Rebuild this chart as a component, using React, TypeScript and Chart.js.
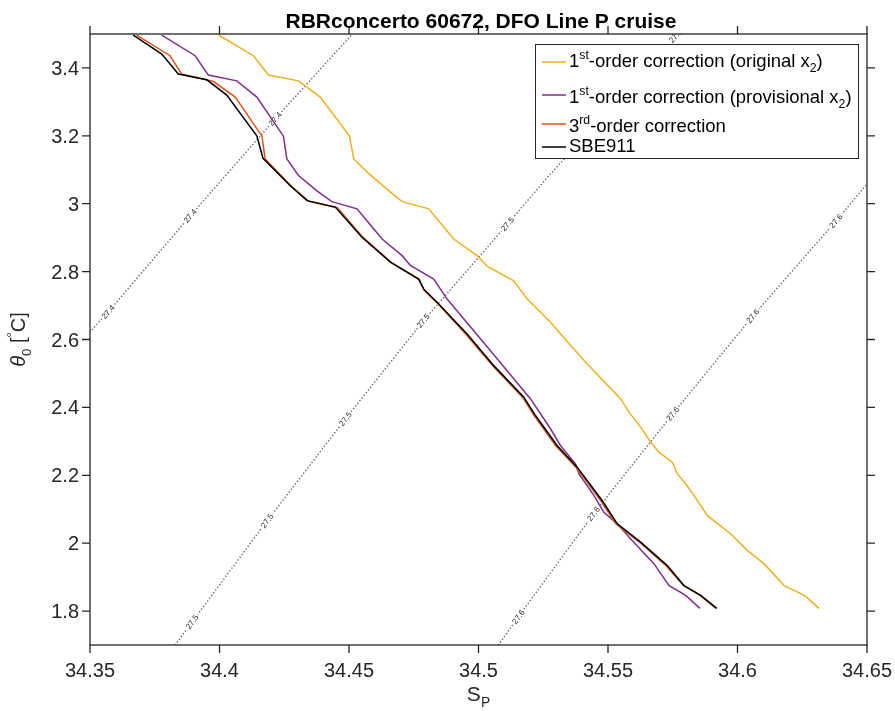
import { useEffect, useRef } from "react";
import { Chart, registerables } from "chart.js";
Chart.register(...registerables);

// ---------------- data ----------------
const xTickValues = [34.35, 34.4, 34.45, 34.5, 34.55, 34.6, 34.65];
const xTickLabels = ["34.35", "34.4", "34.45", "34.5", "34.55", "34.6", "34.65"];
const yTickValues = [1.8, 2, 2.2, 2.4, 2.6, 2.8, 3, 3.2, 3.4];
const yTickLabels = ["1.8", "2", "2.2", "2.4", "2.6", "2.8", "3", "3.2", "3.4"];

// SBE911 (reference CTD)
const sbeS = [34.3667, 34.3777, 34.3841, 34.3951, 34.4028, 34.4144, 34.4168, 34.4273, 34.4338, 34.4447, 34.455, 34.466, 34.4769, 34.4788, 34.484, 34.4956, 34.5059, 34.5175, 34.522, 34.5304, 34.5381, 34.5478, 34.5536, 34.5626, 34.5729, 34.5793, 34.5858, 34.592];
const sbeT = [3.497, 3.441, 3.382, 3.365, 3.32, 3.2, 3.134, 3.053, 3.009, 2.99, 2.901, 2.828, 2.778, 2.749, 2.71, 2.616, 2.523, 2.43, 2.376, 2.287, 2.224, 2.125, 2.057, 2.003, 1.934, 1.875, 1.846, 1.808];

// 3rd-order correction
const thirdS = [34.368, 34.3809, 34.3854, 34.3977, 34.4061, 34.4164, 34.4176, 34.428, 34.4345, 34.4455, 34.4555, 34.4665, 34.4772, 34.479, 34.484, 34.4952, 34.5055, 34.517, 34.5215, 34.5298, 34.5378, 34.5475, 34.553, 34.562, 34.5722, 34.579, 34.5855, 34.5918];
const thirdT = [3.497, 3.436, 3.382, 3.36, 3.314, 3.199, 3.132, 3.05, 3.007, 2.988, 2.9, 2.826, 2.776, 2.745, 2.708, 2.615, 2.523, 2.43, 2.376, 2.287, 2.222, 2.122, 2.057, 2.004, 1.935, 1.877, 1.846, 1.808];

// 1st-order correction (provisional x2)
const provS = [34.3777, 34.3906, 34.3957, 34.4067, 34.4144, 34.4247, 34.426, 34.4305, 34.4376, 34.4434, 34.4531, 34.4595, 34.4628, 34.4705, 34.4737, 34.4827, 34.4879, 34.4976, 34.5072, 34.5201, 34.5278, 34.5317, 34.5375, 34.5388, 34.5446, 34.5484, 34.5536, 34.5587, 34.5678, 34.5736, 34.58, 34.5855];
const provT = [3.497, 3.436, 3.379, 3.362, 3.314, 3.199, 3.132, 3.083, 3.038, 3.006, 2.985, 2.926, 2.896, 2.847, 2.818, 2.778, 2.719, 2.631, 2.543, 2.425, 2.337, 2.287, 2.233, 2.204, 2.14, 2.091, 2.057, 2.013, 1.939, 1.875, 1.846, 1.808];

// 1st-order correction (original x2)
const origS = [34.3996, 34.4131, 34.4189, 34.4305, 34.4389, 34.4502, 34.4518, 34.457, 34.466, 34.4705, 34.4808, 34.4904, 34.4995, 34.5033, 34.5136, 34.5188, 34.5278, 34.5356, 34.542, 34.5549, 34.5581, 34.5626, 34.5665, 34.5697, 34.5749, 34.5768, 34.58, 34.5832, 34.5884, 34.5916, 34.5974, 34.6039, 34.6103, 34.618, 34.6258, 34.6315];
const origT = [3.497, 3.436, 3.379, 3.362, 3.314, 3.199, 3.132, 3.093, 3.034, 3.006, 2.985, 2.896, 2.847, 2.816, 2.773, 2.719, 2.651, 2.582, 2.528, 2.425, 2.386, 2.342, 2.297, 2.268, 2.238, 2.204, 2.175, 2.14, 2.081, 2.062, 2.027, 1.978, 1.939, 1.875, 1.846, 1.808];

// isopycnals (sigma0)
const iso274S = [34.345, 34.35, 34.357, 34.3887, 34.4215, 34.4513, 34.455];
const iso274T = [2.605, 2.622, 2.681, 2.964, 3.25, 3.5, 3.53];
const iso275S = [34.3823, 34.3829, 34.3894, 34.4184, 34.4486, 34.4787, 34.5112, 34.5278, 34.5781, 34.582];
const iso275T = [1.69, 1.7, 1.768, 2.066, 2.366, 2.655, 2.94, 3.088, 3.5, 3.53];
const iso276S = [34.507, 34.5077, 34.5154, 34.5444, 34.575, 34.6059, 34.638, 34.65, 34.655];
const iso276T = [1.69, 1.7, 1.783, 2.086, 2.381, 2.669, 2.949, 3.058, 3.1];

const isoLevels = ["27.4", "27.5", "27.6"];
const lab274S = [34.357, 34.3887, 34.4215];
const lab274T = [2.681, 2.964, 3.25];
const lab275S = [34.3894, 34.4184, 34.4486, 34.4787, 34.5112, 34.5761];
const lab275T = [1.768, 2.066, 2.366, 2.655, 2.94, 3.494];
const lab276S = [34.5154, 34.5444, 34.575, 34.6059, 34.638];
const lab276T = [1.783, 2.086, 2.381, 2.669, 2.949];

const seriesColors = ["#000000", "#D95319", "#7E2F8E", "#EDB120"];

// ---------------- helpers ----------------
const FONT = '"Liberation Sans", Arial, Helvetica, sans-serif';
const AX = "#262626";

function pts(s: number[], t: number[]) {
  return s.map((v, i) => ({ x: v, y: t[i] }));
}

type Part = { t: string; m?: "sup" | "sub"; it?: boolean };

function partFont(p: Part, size: number, bold = false) {
  const s = p.m ? size * 0.66 : size;
  return `${p.it ? "italic " : ""}${bold ? "bold " : ""}${s}px ${FONT}`;
}
function richWidth(ctx: CanvasRenderingContext2D, parts: Part[], size: number) {
  let w = 0;
  for (const p of parts) {
    ctx.font = partFont(p, size);
    w += ctx.measureText(p.t).width;
  }
  return w;
}
function drawRich(ctx: CanvasRenderingContext2D, parts: Part[], x: number, y: number, size: number) {
  let cx = x;
  ctx.textAlign = "left";
  ctx.textBaseline = "alphabetic";
  for (const p of parts) {
    ctx.font = partFont(p, size);
    const dy = p.m === "sup" ? -size * 0.45 : p.m === "sub" ? size * 0.28 : 0;
    ctx.fillText(p.t, cx, y + dy);
    cx += ctx.measureText(p.t).width;
  }
  return cx - x;
}

const legendRows: Part[][] = [
  [{ t: "1" }, { t: "st", m: "sup" }, { t: "-order correction (original x" }, { t: "2", m: "sub" }, { t: ")" }],
  [{ t: "1" }, { t: "st", m: "sup" }, { t: "-order correction (provisional x" }, { t: "2", m: "sub" }, { t: ")" }],
  [{ t: "3" }, { t: "rd", m: "sup" }, { t: "-order correction" }],
  [{ t: "SBE911" }],
];
const legendColors = ["#EDB120", "#7E2F8E", "#D95319", "#000000"];

const labelSets = [
  { s: lab274S, t: lab274T, cs: iso274S, ct: iso274T, text: isoLevels[0] },
  { s: lab275S, t: lab275T, cs: iso275S, ct: iso275T, text: isoLevels[1] },
  { s: lab276S, t: lab276T, cs: iso276S, ct: iso276T, text: isoLevels[2] },
];

const overlay = {
  id: "overlay",
  afterDatasetDraw(chart: any, args: any) {
    const idx = args.index - 4;
    if (idx < 0 || idx > 2) return;
    const set = labelSets[idx];
    const ctx: CanvasRenderingContext2D = chart.ctx;
    const xs = chart.scales.x;
    const ys = chart.scales.y;
    const a = chart.chartArea;
    ctx.save();
    ctx.beginPath();
    ctx.rect(a.left, a.top, a.right - a.left, a.bottom - a.top);
    ctx.clip();
    ctx.font = `8px ${FONT}`;
    for (let i = 0; i < set.s.length; i++) {
      const px = xs.getPixelForValue(set.s[i]);
      const py = ys.getPixelForValue(set.t[i]);
      let k = 0;
      while (k < set.cs.length - 2 && set.cs[k + 1] < set.s[i]) k++;
      const x1 = xs.getPixelForValue(set.cs[k]);
      const y1 = ys.getPixelForValue(set.ct[k]);
      const x2 = xs.getPixelForValue(set.cs[k + 1]);
      const y2 = ys.getPixelForValue(set.ct[k + 1]);
      const ang = Math.atan2(y2 - y1, x2 - x1);
      ctx.save();
      ctx.translate(px, py);
      ctx.rotate(ang);
      const w = ctx.measureText(set.text).width;
      ctx.fillStyle = "#ffffff";
      ctx.fillRect(-w / 2 - 1.5, -4.5, w + 3, 9);
      ctx.fillStyle = "#2a2a2a";
      ctx.textAlign = "center";
      ctx.textBaseline = "middle";
      ctx.fillText(set.text, 0, 0.5);
      ctx.restore();
    }
    ctx.restore();
  },
  afterDraw(chart: any) {
    const ctx: CanvasRenderingContext2D = chart.ctx;
    const xs = chart.scales.x;
    const ys = chart.scales.y;
    const a = chart.chartArea;
    ctx.save();
    ctx.strokeStyle = AX;
    ctx.lineWidth = 1.3;
    ctx.strokeRect(a.left, a.top, a.right - a.left, a.bottom - a.top);
    const TL = 8;
    ctx.beginPath();
    for (const v of xTickValues) {
      const px = xs.getPixelForValue(v);
      ctx.moveTo(px, a.bottom);
      ctx.lineTo(px, a.bottom + TL);
      ctx.moveTo(px, a.top);
      ctx.lineTo(px, a.top - TL);
    }
    for (const v of yTickValues) {
      const py = ys.getPixelForValue(v);
      ctx.moveTo(a.left, py);
      ctx.lineTo(a.left - TL, py);
      ctx.moveTo(a.right, py);
      ctx.lineTo(a.right + TL, py);
    }
    ctx.stroke();

    ctx.fillStyle = AX;
    ctx.font = `20px ${FONT}`;
    ctx.textAlign = "center";
    ctx.textBaseline = "alphabetic";
    xTickValues.forEach((v, i) => {
      ctx.fillText(xTickLabels[i], xs.getPixelForValue(v), a.bottom + 32);
    });
    ctx.textAlign = "right";
    yTickValues.forEach((v, i) => {
      ctx.fillText(yTickLabels[i], a.left - 11, ys.getPixelForValue(v) + 7);
    });

    ctx.fillStyle = "#000";
    ctx.font = `bold 21px ${FONT}`;
    ctx.textAlign = "center";
    ctx.fillText("RBRconcerto 60672, DFO Line P cruise", 481, 28);

    ctx.fillStyle = AX;
    const xParts: Part[] = [{ t: "S" }, { t: "P", m: "sub" }];
    const xw = richWidth(ctx, xParts, 21);
    drawRich(ctx, xParts, (a.left + a.right) / 2 - xw / 2, 701, 21);

    const yParts: Part[] = [{ t: "θ", it: true }, { t: "0", m: "sub" }, { t: " [" }, { t: "°", m: "sup" }, { t: "C]" }];
    ctx.save();
    ctx.translate(25, (a.top + a.bottom) / 2);
    ctx.rotate(-Math.PI / 2);
    const yw = richWidth(ctx, yParts, 20);
    drawRich(ctx, yParts, -yw / 2, 0, 20);
    ctx.restore();

    const L = { x: 535, y: 44, w: 323, h: 114 };
    ctx.fillStyle = "#ffffff";
    ctx.fillRect(L.x, L.y, L.w, L.h);
    ctx.strokeStyle = AX;
    ctx.lineWidth = 1;
    ctx.strokeRect(L.x + 0.5, L.y + 0.5, L.w, L.h);
    const baselines = [67, 103, 132, 152];
    const lineYs = [62, 95, 124, 147];
    legendRows.forEach((row, i) => {
      ctx.strokeStyle = legendColors[i];
      ctx.lineWidth = 1.5;
      ctx.beginPath();
      ctx.moveTo(542, lineYs[i]);
      ctx.lineTo(566, lineYs[i]);
      ctx.stroke();
      ctx.fillStyle = "#000";
      drawRich(ctx, row, 569, baselines[i], 18.5);
    });
    ctx.restore();
  },
};

export default function App() {
  const ref = useRef<HTMLCanvasElement>(null);
  useEffect(() => {
    const canvas = ref.current!;
    const line = (data: any, color: string, order: number) => ({
      data,
      borderColor: color,
      backgroundColor: color,
      showLine: true,
      pointRadius: 0,
      borderWidth: 1.5,
      order,
    });
    const iso = (data: any) => ({
      data,
      borderColor: "#666666",
      showLine: true,
      pointRadius: 0,
      borderWidth: 1.4,
      borderDash: [1.4, 2],
      order: 10,
    });
    const chart = new Chart(canvas, {
      type: "scatter",
      data: {
        datasets: [
          line(pts(sbeS, sbeT), seriesColors[0], 0),
          line(pts(thirdS, thirdT), seriesColors[1], 1),
          line(pts(provS, provT), seriesColors[2], 2),
          line(pts(origS, origT), seriesColors[3], 3),
          iso(pts(iso274S, iso274T)),
          iso(pts(iso275S, iso275T)),
          iso(pts(iso276S, iso276T)),
        ] as any,
      },
      options: {
        animation: false,
        responsive: false,
        events: [],
        layout: { padding: { left: 90, right: 28, top: 34, bottom: 66 } },
        scales: {
          x: { type: "linear", display: false, min: 34.35, max: 34.65 },
          y: { type: "linear", display: false, min: 1.7, max: 3.5 },
        },
        plugins: {
          legend: { display: false },
          title: { display: false },
          tooltip: { enabled: false },
        },
      },
      plugins: [overlay as any],
    });
    return () => chart.destroy();
  }, []);
  return (
    <div style={{ position: "fixed", left: 0, top: 0, width: 895, height: 711, background: "#fff" }}>
      <canvas ref={ref} width={895} height={711} style={{ display: "block" }} />
    </div>
  );
}
